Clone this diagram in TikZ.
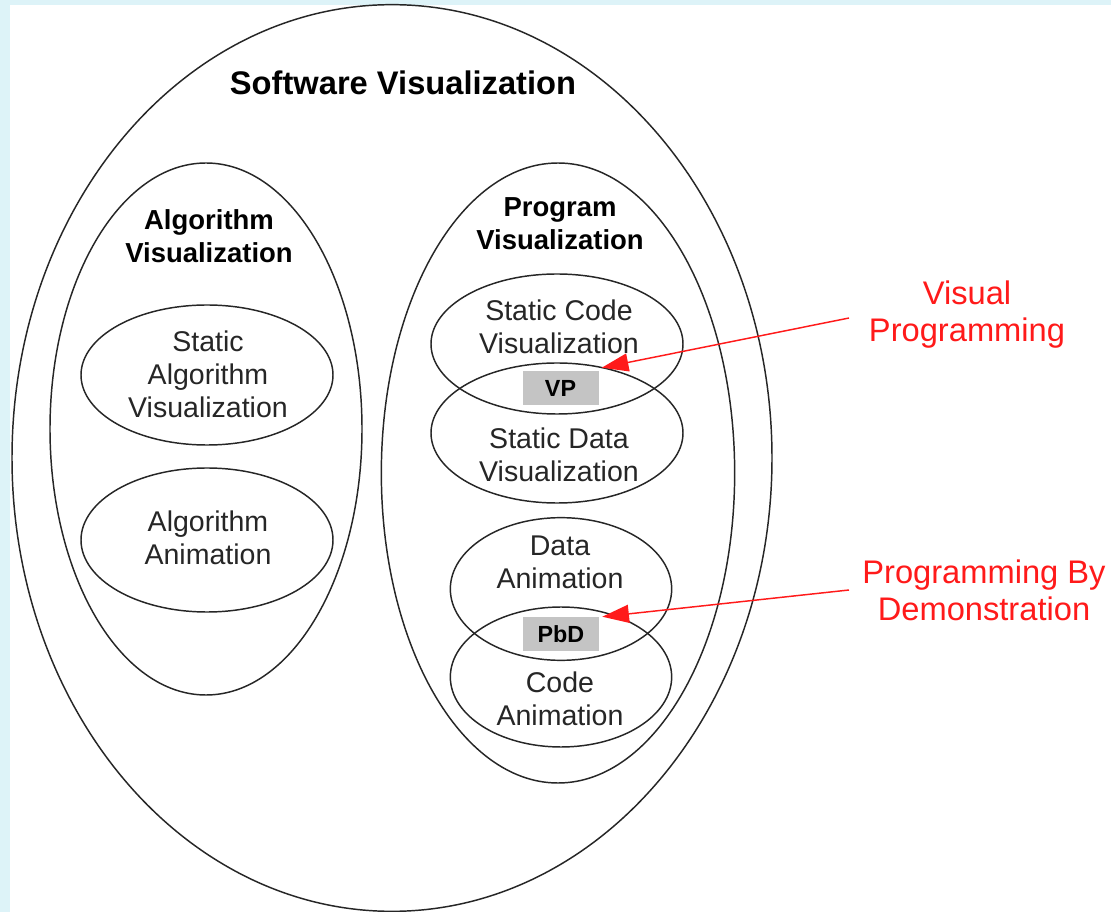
\documentclass[tikz,border=0pt]{standalone}
\usepackage{fontspec}
\setmainfont{Liberation Sans}
\usetikzlibrary{shapes.geometric,arrows.meta}
\definecolor{pageblue}{HTML}{DDF3F8}
\definecolor{tag}{HTML}{C4C4C4}
\definecolor{note}{HTML}{FF1A1A}
\begin{document}
\begin{tikzpicture}[x=0.75pt,y=-0.75pt,
  oval/.style={ellipse,draw=black!85,line width=1.1pt,inner sep=0pt},
  body/.style={align=center,text=black!85,font=\fontsize{21.4}{24.75}\selectfont},
  head/.style={align=center,font=\bfseries\fontsize{20.6}{24.75}\selectfont},
  tagbox/.style={fill=tag,inner sep=0pt,minimum width=57pt,minimum height=25.5pt,font=\bfseries\fontsize{17.5}{20}\selectfont},
  notetext/.style={align=center,text=note,font=\fontsize{24.5}{27.75}\selectfont},
  notearrow/.style={draw=note,line width=1.1pt,-{Triangle[length=20pt,width=13.5pt]}}]
% page
\fill[pageblue] (0,0) rectangle (1111,912);
\fill[white] (10,5) rectangle (1111,912);
\useasboundingbox (0,0) rectangle (1111,912);

% outer set
\node[oval,minimum width=570pt,minimum height=680pt] (sv) at (392,458) {};
\node[font=\bfseries\fontsize{24.5}{28}\selectfont] (svt) at (403,83) {Software Visualization};

% algorithm visualization
\node[oval,minimum width=234pt,minimum height=399pt] (av) at (206,429) {};
\node[head] (avt) at (209,236) {Algorithm\\Visualization};
\node[oval,minimum width=189pt,minimum height=105pt] (sav) at (207,375) {};
\node[body] (savt) at (208,374) {Static\\Algorithm\\Visualization};
\node[oval,minimum width=189pt,minimum height=108pt] (aa) at (207,540) {};
\node[body] (aat) at (208,538) {Algorithm\\Animation};

% program visualization
\node[oval,minimum width=265pt,minimum height=465pt] (pv) at (558,473) {};
\node[head] (pvt) at (560,224) {Program\\Visualization};
\node[oval,minimum width=189pt,minimum height=105pt] (scv) at (557,344) {};
\node[body] (scvt) at (559,327) {Static Code\\Visualization};
\node[oval,minimum width=189pt,minimum height=105pt] (sdv) at (557,433) {};
\node[body] (sdvt) at (559,455) {Static Data\\Visualization};
\node[tagbox] (vp) at (560.5,388) {VP};

\node[oval,minimum width=166pt,minimum height=107pt] (da) at (561,589) {};
\node[body] (dat) at (560,562) {Data\\Animation};
\node[oval,minimum width=166pt,minimum height=105pt] (ca) at (561,677) {};
\node[body] (cat) at (560,699) {Code\\Animation};
\node[tagbox] (pbd) at (561,634) {PbD};

% annotations
\node[notetext] (vpn) at (967,315) {Visual\\Programming};
\node[notetext] (pbdn) at (984,590) {Programming By\\Demonstration};
\coordinate (vpa) at (849,318);
\coordinate (pbda) at (849,590);
\draw[notearrow] (vpa) -- ([shift={(3,-3)}]vp.north east);
\draw[notearrow] (pbda) -- ([shift={(3,0)}]pbd.north east);
\end{tikzpicture}
\end{document}
